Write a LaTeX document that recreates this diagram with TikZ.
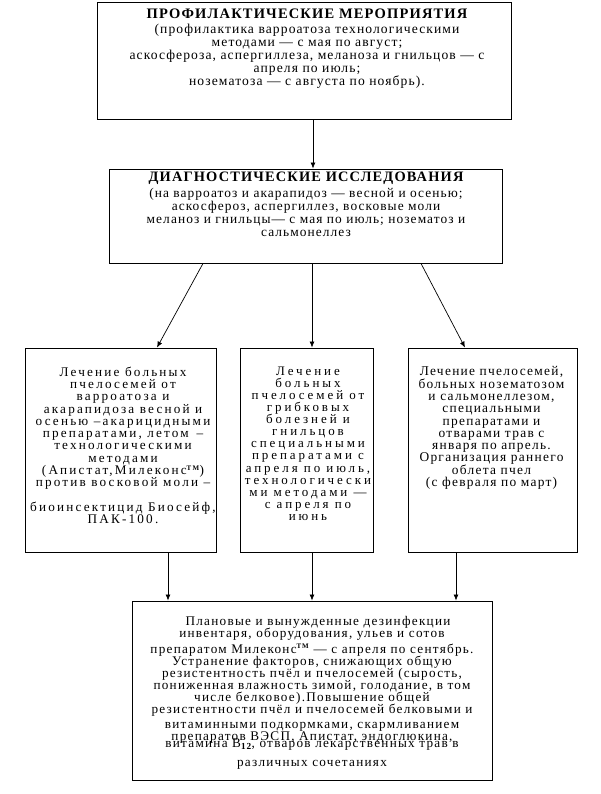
\documentclass[tikz,border=0pt]{standalone}
\usepackage{fontspec}
\setmainfont{Liberation Serif}[LetterSpace=8]
\newfontfamily\widefont{Liberation Serif}[LetterSpace=22.5]
\newfontfamily\midfont{Liberation Serif}[LetterSpace=16.5]
\newfontfamily\bodyfont{Liberation Serif}[LetterSpace=9.6]
\usetikzlibrary{arrows.meta,calc}
\tikzset{
  box/.style={draw, line width=0.9pt, inner sep=0pt},
  txt/.style={inner sep=0pt, align=center, anchor=north, font=\fontsize{13.6}{13}\selectfont,
    execute at begin node={\lineskiplimit=-50pt\lineskip=0pt}},
  arr/.style={line width=0.7pt, -{Latex[length=6pt,width=5pt]}},
}
\newcommand{\ttm}{\textsuperscript{\bfseries\scriptsize TM}}
\begin{document}
\begin{tikzpicture}[x=1pt,y=-1pt]
\useasboundingbox[fill=white] (0,0) rectangle (601,794);
% boxes
\node[box, minimum width=414pt, minimum height=117pt] (b1) at (304,60.5) {};
\node[box, minimum width=393pt, minimum height=94pt] (b2) at (305.5,216) {};
\node[box, minimum width=191pt, minimum height=204pt] (l) at (120.5,450) {};
\node[box, minimum width=133pt, minimum height=204pt] (m) at (306.5,450) {};
\node[box, minimum width=169pt, minimum height=204pt] (r) at (492.5,450) {};
\node[box, minimum width=360pt, minimum height=179pt] (bot) at (312,690.5) {};
% texts
\node[txt] (t1) at (307,9) {{\fontsize{14.5}{15}\selectfont\bfseries ПРОФИЛАКТИЧЕСКИЕ МЕРОПРИЯТИЯ}\\[1.5pt]
(профилактика варроатоза технологическими\\
методами — с мая по август;\\
аскосфероза, аспергиллеза, меланоза и гнильцов — с\\
апреля по июль;\\
нозематоза — с августа по ноябрь).};
\node[txt, font=\fontsize{13.4}{12.7}\selectfont] (t2) at (306,171.5) {{\fontsize{14.4}{15}\selectfont\bfseries ДИАГНОСТИЧЕСКИЕ ИССЛЕДОВАНИЯ}\\[4pt]
(на варроатоз и акарапидоз — весной и осенью;\\
аскосфероз, аспергиллез, восковые моли\\
меланоз и гнильцы— с мая по июль; нозематоз и\\
сальмонеллез};
\node[txt, font=\midfont\fontsize{13.2}{12.3}\selectfont] (tl) at (123,366.5) {Лечение больных\\
пчелосемей от\\
варроатоза и\\
акарапидоза весной и\\
осенью –акарицидными\\
препаратами, летом \,–\\
технологическими\\
методами\\
(Апистат,Милеконс\ttm)\\
против восковой моли –\\[12pt]
биоинсектицид Биосейф,\\
ПАК-100.};
\node[txt, font=\widefont\fontsize{13}{12.1}\selectfont] (tm) at (308,366.5) {Лечение\\
больных\\
пчелосемей от\\
грибковых\\
болезней и\\
гнильцов\\
специальными\\
препаратами с\\
апреля по июль,\\
технологически\\
ми методами —\\
с апреля по\\
июнь};
\node[txt, font=\bodyfont\fontsize{13.4}{12.3}\selectfont] (tr) at (491.5,366.5) {Лечение пчелосемей,\\
больных нозематозом\\
и сальмонеллезом,\\
специальными\\
препаратами и\\
отварами трав с\\
января по апрель.\\
Организация раннего\\
облета пчел\\
(с февраля по март)};
\node[txt, font=\bodyfont\fontsize{13.2}{12.1}\selectfont] (tb) at (312,616.5) {\hspace{12pt}Плановые и вынужденные дезинфекции\\
инвентаря, оборудования, ульев и сотов\\[3pt]
препаратом Милеконс\ttm{} — с апреля по сентябрь.\\
Устранение факторов, снижающих общую\\
резистентность пчёл и пчелосемей (сырость,\\
пониженная влажность зимой, голодание, в том\\
числе белковое).Повышение общей\\
резистентности пчёл и пчелосемей белковыми и\\[3pt]
витаминными подкормками, скармливанием\\
препаратов ВЭСП, Апистат, эндоглюкина,\\[-5pt]
витамина В\textsubscript{\bfseries 12}, отваров лекарственных трав в\\[7pt]
различных сочетаниях};
% arrows
\draw[arr] ([xshift=9pt]b1.south) -- ([xshift=7.5pt]b2.north);
\draw[arr] ([xshift=-102.5pt]b2.south) -- ([xshift=36.5pt]l.north);
\draw[arr] ([xshift=6.5pt]b2.south) -- ([xshift=5.5pt]m.north);
\draw[arr] ([xshift=115.5pt]b2.south) -- ([xshift=-27.5pt]r.north);
\draw[arr] ([xshift=47.5pt]l.south) -- ([xshift=-144pt]bot.north);
\draw[arr] ([xshift=5.5pt]m.south) -- ([xshift=0pt]bot.north);
\draw[arr] ([xshift=-36.5pt]r.south) -- ([xshift=144pt]bot.north);
\end{tikzpicture}
\end{document}
